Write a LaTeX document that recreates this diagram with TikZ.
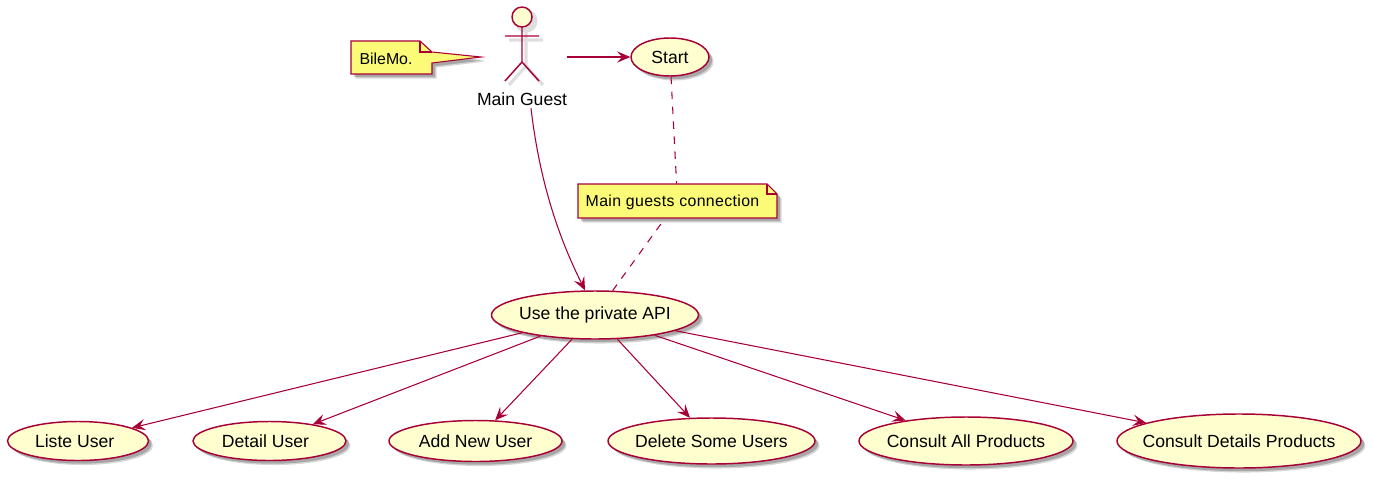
\documentclass[tikz,border=0pt]{standalone}
\usepackage{fontspec}
\setmainfont{Liberation Sans}
\usetikzlibrary{arrows.meta,shapes.geometric,shadows}
\definecolor{umlline}{HTML}{A80036}
\definecolor{umlfill}{HTML}{FEFECE}
\definecolor{umlnote}{HTML}{FBFB77}
\tikzset{
  softshadow/.style={drop shadow={shadow xshift=3.4pt,shadow yshift=-3.4pt,fill=black,opacity=.16},
    drop shadow={shadow xshift=2.4pt,shadow yshift=-2.4pt,fill=black,opacity=.22}},
  usecase/.style 2 args={ellipse,draw=umlline,fill=umlfill,line width=1.1pt,inner sep=0pt,
    minimum width=#1*.75pt,minimum height=#2*.75pt,softshadow,font=\fontsize{13.2}{15}\selectfont},
  notebox/.style={draw=umlline,fill=umlnote,line width=.8pt,line join=miter,softshadow},
  notetext/.style={inner sep=0pt,font=\fontsize{11.9}{14}\selectfont},
  flow/.style={draw=umlline,line width=.8pt,-{Stealth[length=10pt,width=8.5pt,inset=4pt]}},
  dashlink/.style={draw=umlline,line width=.8pt,dash pattern=on 5.6pt off 5.6pt},
  stickman/.pic={
    \draw[pic actions] (0,17) circle[radius=7.5pt];
    \draw[pic actions,fill=none] (0,27) -- (0,62) (-17,36) -- (17,36) (-17,81) -- (0,62) -- (17,81);
  }
}
\begin{document}
\begin{tikzpicture}[x=.75pt,y=-.75pt]
  \useasboundingbox (0,0) rectangle (1374,482);
  % actor
  \pic[draw=black!13,fill=black!13,line width=2.4pt] at (526,4) {stickman};
  \pic[draw=umlline,fill=umlfill,line width=1.1pt] at (522,0) {stickman};
  \node[inner sep=0pt,minimum width=86*.75pt,minimum height=100*.75pt] (guest) at (524,57) {};
  \node[inner sep=0pt,font=\fontsize{13.2}{15}\selectfont,minimum height=18*.75pt] (guestname) at (522,99) {Main Guest};
  % notes
  \draw[notebox] (351,41) -- (420,41) -- (432,52) -- (481,57) -- (432,63) -- (432,74) -- (351,74) -- cycle;
  \draw[draw=umlline,line width=.8pt] (420,41) -- (420,52) -- (432,52);
  \node[notetext] (notebile) at (386,59) {BileMo.};
  \draw[notebox] (578,184) -- (767,184) -- (777,194) -- (777,218) -- (578,218) -- cycle;
  \draw[draw=umlline,line width=.8pt] (767,184) -- (767,194) -- (777,194);
  \node[notetext,minimum width=199*.75pt,minimum height=34*.75pt] (noteconn) at (677.5,201) {};
  \node[notetext] (noteconntext) at (672.5,202) {\addfontfeature{LetterSpace=2.3}Main guests connection};
  % use cases
  \node[usecase={78}{38}] (start) at (670,57) {\makebox[0pt]{Start}};
  \node[usecase={207}{48}] (api) at (595,315) {\makebox[0pt]{Use the private API}};
  \node[usecase={141}{39}] (liste) at (78,441) {\makebox[0pt]{\kern-5pt Liste User}};
  \node[usecase={153}{39}] (detail) at (269.5,441) {\makebox[0pt]{\kern-6pt Detail User}};
  \node[usecase={173}{41}] (addnew) at (475.5,441) {\makebox[0pt]{Add New User}};
  \node[usecase={207}{46}] (delete) at (711.5,441) {\makebox[0pt]{Delete Some Users}};
  \node[usecase={214}{48}] (allprod) at (966,441) {\makebox[0pt]{Consult All Products}};
  \node[usecase={244}{54}] (detprod) at (1239,441) {\makebox[0pt]{Consult Details Products}};
  % links
  \draw[flow] (guest) -- (start);
  \draw[flow] (guestname.south) ++(9,0) coordinate (guestfoot) (guestfoot) .. controls (540,185) and (560,240) .. (api.112);
  \draw[dashlink] (start) -- (noteconn);
  \draw[dashlink] (api) -- (noteconn);
  \foreach \target in {liste,detail,addnew,delete,allprod,detprod}
    \draw[flow] (api) -- (\target);
\end{tikzpicture}
\end{document}
